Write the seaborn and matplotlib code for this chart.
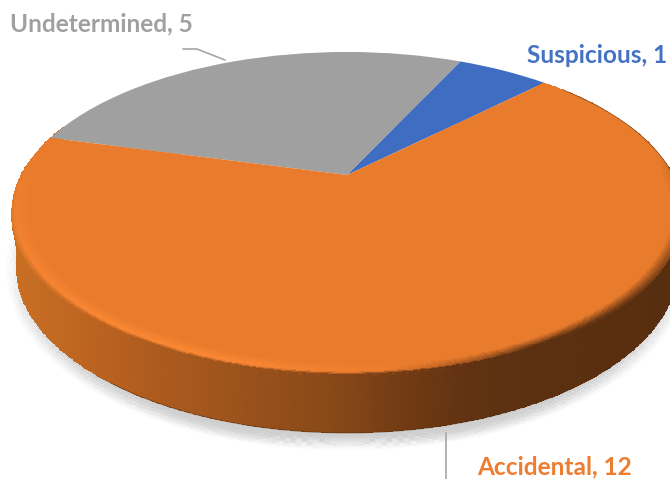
""" Causes pie, drawn flat by ax.pie and tilted afterwards so it looks like the 3D one. """
import numpy as np
import matplotlib
matplotlib.use('Agg')
import matplotlib.pyplot as plt
import matplotlib.transforms as mtransforms
import seaborn as sns

#############
# Chart data #
#############
causes = ['Suspicious', 'Undetermined', 'Accidental']
counts = [1, 5, 12]
cause_colors = ['#3F6DC2', '#A0A0A0', '#E97B2C']
label_colors = ['#4472C4', '#A0A0A0', '#ED7D31']

sns.set_theme(style='white')
plt.rcParams['font.family'] = ['Lato', 'DejaVu Sans']

###############
# Perspective #
###############
# Apex of the pie in pixels, and the tilt of the disc
APEX_X, APEX_Y = 347, 175
RX, RY, TILT = 326, 152.3, 0.238


def tilt_points(u, v):
    w = 1 + TILT * v
    return APEX_X + RX * u / w, APEX_Y - RY * v / w


class Tilt(mtransforms.Transform):
    input_dims = 2
    output_dims = 2

    def transform_non_affine(self, values):
        values = np.asarray(values)
        x, y = tilt_points(values[:, 0], values[:, 1])
        return np.column_stack([x, y])


def wall_rgb(x):
    # Side wall gets darker from left to right
    stops = [10, 100, 170, 335, 400, 470, 550, 680]
    r = np.interp(x, stops, [202, 186, 170, 135, 115, 96, 90, 88])
    g = np.interp(x, stops, [112, 98, 90, 72, 60, 50, 48, 46])
    b = np.interp(x, stops, [36, 32, 30, 24, 20, 18, 16, 16])
    return np.stack([r, g, b], axis=-1) / 255


fig = plt.figure(figsize=(6.7, 4.79), dpi=100)
ax = fig.add_axes([0, 0, 1, 1])

##########
# Shadow #
##########
th = np.radians(np.linspace(0, 360, 361))
rings = np.linspace(0.80, 1.0, 41)
T, R = np.meshgrid(th, rings)
sx = 347 + 342 * R * np.cos(T)
sy = 270 + 181 * R * np.sin(T)
shadow = np.zeros((len(rings) - 1, len(th) - 1, 4))
shadow[..., :3] = 0.81
mid_r = (rings[:-1] + rings[1:]) / 2
shadow[..., 3] = np.clip((1.0 - mid_r) / 0.08, 0, 1)[:, None] ** 1.3
ax.pcolormesh(sx, sy, shadow, shading='flat', antialiased=False, zorder=1)

########
# Wall #
########
th = np.radians(np.linspace(160, 380, 441))
steps = np.linspace(0, 1, 8)[:, None]
top_x, top_y = tilt_points(np.cos(th), np.sin(th))
bot_x = 347 + 331 * np.cos(th)
bot_y = 266 - 167 * np.sin(th)
X = top_x + (bot_x - top_x) * steps
Y = top_y + (bot_y - top_y) * steps
mid_x = (X[:-1, :-1] + X[1:, 1:]) / 2
ax.pcolormesh(X, Y, wall_rgb(mid_x), shading='flat', antialiased=False, zorder=2)
# fine brown line under the wall, not on the far left
under = (bot_x > 110) & (bot_y > 300)
ax.plot(bot_x[under], bot_y[under], color='#5a3010', lw=0.7, alpha=0.55, zorder=2)

#######
# Pie #
#######
start = 45
wedges, _ = ax.pie(counts, colors=cause_colors, startangle=start, radius=1,
                   wedgeprops={'linewidth': 0})
for wedge in wedges:
    wedge.set_transform(Tilt() + ax.transData)
    wedge.set_zorder(3)

#########
# Bevel #
#########
# Soft rim on the big slice only, so it starts where the slice starts
big_from = start + 360 * sum(counts[:2]) / sum(counts)
big_to = start + 360
th = np.radians(np.linspace(big_from, big_to, 481))
rim = np.linspace(0.95, 1.0, 13)
T, R = np.meshgrid(th, rim)
X, Y = tilt_points(R * np.cos(T), R * np.sin(T))
mx = (X[:-1, :-1] + X[1:, 1:]) / 2
t = np.linspace(0, 1, len(rim) - 1)[:, None] * np.ones_like(mx)
front = np.clip(-np.sin((T[:-1, :-1] + T[1:, 1:]) / 2) + 0.15, 0, 1)
base = np.array(matplotlib.colors.to_rgb(cause_colors[2]))
glow = np.array([0.98, 0.53, 0.20])
wall = wall_rgb(mx)
t3 = t[..., None]
f3 = front[..., None]
shine = np.clip((430 - mx[..., None]) / 200, 0, 1) * f3
rgb = base + (glow - base) * shine * np.clip(t3 / 0.7, 0, 1)
edge = np.clip((t3 - 0.78) / 0.22, 0, 1) * f3
soft = np.clip((mx[..., None] - 380) / 150, 0, 1) * np.clip((t3 - 0.35) / 0.65, 0, 1) * f3
rgb = rgb + (wall - rgb) * np.maximum(edge, soft)
ax.pcolormesh(X, Y, rgb, shading='flat', antialiased=False, zorder=4)
# thin dark edge on the back right of the disc
back = np.radians(np.linspace(big_to - 45, big_to - 5, 60))
ex, ey = tilt_points(np.cos(back), np.sin(back))
ax.plot(ex, ey, color='#6b3a14', lw=0.7, alpha=0.6, zorder=4)

##########
# Labels #
##########
ax.plot([183, 197, 225], [49, 49, 60], color='#A6A6A6', lw=1.2, zorder=5)
ax.plot([446, 446], [433, 479], color='#A6A6A6', lw=1.2, zorder=5)
label_xy = [(527, 55), (10, 24), (477, 467)]
for name, n, col, (lx, ly) in zip(causes, counts, label_colors, label_xy):
    ax.text(lx, ly, f'{name}, {n}', color=col, fontsize=17.6, fontweight='bold',
            ha='left', va='center', zorder=6)

ax.set_aspect('auto')
ax.set_xlim(0, 670)
ax.set_ylim(479, 0)
ax.axis('off')
fig.savefig('out.png', dpi=100, facecolor='white')
